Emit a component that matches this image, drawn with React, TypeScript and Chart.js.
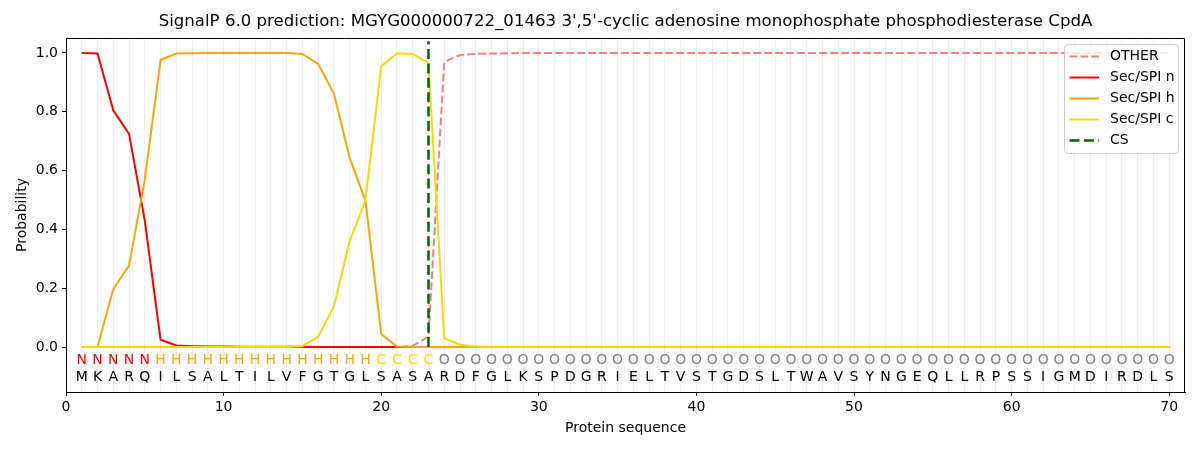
import { useEffect, useRef } from "react";
import { Chart, registerables, type ChartConfiguration, type Plugin } from "chart.js";

Chart.register(...registerables);

const TITLE =
  "SignalP 6.0 prediction: MGYG000000722_01463 3',5'-cyclic adenosine monophosphate phosphodiesterase CpdA";

const SEQUENCE = "MKARQILSALTILVFGTGLSASARDFGLKSPDGRIELTVSTGDSLTWAVSYNGEQLLRPSSIGMDIRDLS".split("");
const REGIONS = (
  "NNNNN" + "HHHHHHHHHHHHHH" + "CCCC" + "OOOOOOOOOOOOOOOOOOOOOOOOOOOOOOOOOOOOOOOOOOOOOOO"
).split("");

const OTHER = [
  0, 0, 0, 0, 0, 0, 0, 0, 0, 0,
  0, 0, 0, 0, 0, 0, 0, 0, 0, 0,
  0, 0.004, 0.035, 0.97, 0.993, 0.997, 0.998, 0.999, 1, 1,
  1, 1, 1, 1, 1, 1, 1, 1, 1, 1,
  1, 1, 1, 1, 1, 1, 1, 1, 1, 1,
  1, 1, 1, 1, 1, 1, 1, 1, 1, 1,
  1, 1, 1, 1, 1, 1, 1, 1, 1, 1,
];
const SEC_N = [
  1.0, 0.998, 0.805, 0.725, 0.43, 0.025, 0.005, 0.003, 0.002, 0.002,
  0.001, 0.001, 0.001, 0.001, 0.001, 0, 0, 0, 0, 0,
  0, 0, 0, 0, 0, 0, 0, 0, 0, 0,
  0, 0, 0, 0, 0, 0, 0, 0, 0, 0,
  0, 0, 0, 0, 0, 0, 0, 0, 0, 0,
  0, 0, 0, 0, 0, 0, 0, 0, 0, 0,
  0, 0, 0, 0, 0, 0, 0, 0, 0, 0,
];
const SEC_H = [
  0, 0, 0.197, 0.277, 0.57, 0.976, 0.998, 0.999, 1, 1,
  1, 1, 1, 1, 0.997, 0.963, 0.862, 0.643, 0.498, 0.044,
  0.002, 0, 0, 0, 0, 0, 0, 0, 0, 0,
  0, 0, 0, 0, 0, 0, 0, 0, 0, 0,
  0, 0, 0, 0, 0, 0, 0, 0, 0, 0,
  0, 0, 0, 0, 0, 0, 0, 0, 0, 0,
  0, 0, 0, 0, 0, 0, 0, 0, 0, 0,
];
const SEC_C = [
  0, 0, 0, 0, 0, 0, 0, 0, 0, 0,
  0, 0, 0, 0, 0.003, 0.035, 0.139, 0.36, 0.498, 0.955,
  0.999, 0.997, 0.966, 0.03, 0.008, 0.002, 0, 0, 0, 0,
  0, 0, 0, 0, 0, 0, 0, 0, 0, 0,
  0, 0, 0, 0, 0, 0, 0, 0, 0, 0,
  0, 0, 0, 0, 0, 0, 0, 0, 0, 0,
  0, 0, 0, 0, 0, 0, 0, 0, 0, 0,
];

const CS_POS = 23;
const CS_TOP = 1.04;

const X_TICKS = [0, 10, 20, 30, 40, 50, 60, 70];
const Y_TICKS = [0, 0.2, 0.4, 0.6, 0.8, 1.0];

const FONT = '"DejaVu Sans", sans-serif';
const REGION_COLORS: Record<string, string> = {
  N: "#ff0000",
  H: "#ffa500",
  C: "#ffd700",
  O: "#808080",
};

const toPoints = (vals: number[]) => vals.map((y, i) => ({ x: i + 1, y }));

// title, top/right spines, residue letters and the boxed legend
const decorations: Plugin<"line"> = {
  id: "decorations",
  afterDatasetsDraw(chart) {
    const { ctx, scales } = chart;
    const x = scales.x;
    const y = scales.y;
    ctx.save();
    ctx.font = `14px ${FONT}`;
    ctx.textAlign = "center";
    ctx.textBaseline = "middle";
    const yLab = y.getPixelForValue(-0.047);
    const yAa = y.getPixelForValue(-0.102);
    SEQUENCE.forEach((aa, i) => {
      const px = x.getPixelForValue(i + 1);
      ctx.fillStyle = REGION_COLORS[REGIONS[i]];
      ctx.fillText(REGIONS[i], px, yLab);
      ctx.fillStyle = "#000";
      ctx.fillText(aa, px, yAa);
    });
    ctx.restore();
  },
  afterDraw(chart) {
    const { ctx, chartArea } = chart;
    ctx.save();
    ctx.strokeStyle = "#000";
    ctx.lineWidth = 1;
    ctx.beginPath();
    ctx.moveTo(chartArea.left, chartArea.top + 0.5);
    ctx.lineTo(chartArea.right - 0.5, chartArea.top + 0.5);
    ctx.lineTo(chartArea.right - 0.5, chartArea.bottom);
    ctx.stroke();

    ctx.fillStyle = "#000";
    ctx.font = `16.6px ${FONT}`;
    ctx.textAlign = "center";
    ctx.textBaseline = "middle";
    ctx.fillText(TITLE, (chartArea.left + chartArea.right) / 2, 22);

    // legend
    const bx = 1064.5, by = 44.5, bw = 114, bh = 109, r = 4;
    ctx.beginPath();
    ctx.moveTo(bx + r, by);
    ctx.arcTo(bx + bw, by, bx + bw, by + bh, r);
    ctx.arcTo(bx + bw, by + bh, bx, by + bh, r);
    ctx.arcTo(bx, by + bh, bx, by, r);
    ctx.arcTo(bx, by, bx + bw, by, r);
    ctx.closePath();
    ctx.fillStyle = "rgba(255,255,255,0.8)";
    ctx.fill();
    ctx.strokeStyle = "#cccccc";
    ctx.stroke();

    ctx.font = `14px ${FONT}`;
    ctx.textAlign = "left";
    chart.data.datasets.forEach((ds: any, i) => {
      const ly = 56.5 + i * 21;
      ctx.beginPath();
      ctx.strokeStyle = ds.borderColor;
      ctx.lineWidth = ds.borderWidth;
      ctx.setLineDash(ds.borderDash || []);
      ctx.moveTo(1069.5, ly);
      ctx.lineTo(1099, ly);
      ctx.stroke();
      ctx.setLineDash([]);
      ctx.fillStyle = "#000";
      ctx.fillText(ds.label, 1110, ly);
    });
    ctx.restore();
  },
};

export default function App() {
  const canvasRef = useRef<HTMLCanvasElement>(null);

  useEffect(() => {
    if (!canvasRef.current) return;
    const config: ChartConfiguration<"line"> = {
      type: "line",
      data: {
        datasets: [
          {
            label: "OTHER",
            data: toPoints(OTHER),
            borderColor: "#f08080",
            borderWidth: 2,
            borderDash: [7.7, 3.3],
            order: 5,
          },
          { label: "Sec/SPI n", data: toPoints(SEC_N), borderColor: "#ff0000", borderWidth: 2, order: 4 },
          { label: "Sec/SPI h", data: toPoints(SEC_H), borderColor: "#ffa500", borderWidth: 2, order: 3 },
          { label: "Sec/SPI c", data: toPoints(SEC_C), borderColor: "#ffd700", borderWidth: 2, order: 2 },
          {
            label: "CS",
            data: [
              { x: CS_POS, y: 0 },
              { x: CS_POS, y: CS_TOP },
            ],
            borderColor: "#006400",
            borderWidth: 2.5,
            borderDash: [10, 4.4],
            order: 1,
          },
        ],
      },
      options: {
        responsive: true,
        maintainAspectRatio: false,
        animation: false,
        devicePixelRatio: 1,
        layout: { padding: { top: 38, right: 15, left: 0, bottom: 0 } },
        elements: { point: { radius: 0 }, line: { tension: 0, fill: false } },
        plugins: { legend: { display: false }, tooltip: { enabled: false } },
        scales: {
          x: {
            type: "linear",
            min: 0,
            max: 71,
            afterBuildTicks: (s) => {
              s.ticks = Array.from({ length: 71 }, (_, i) => ({ value: i }));
            },
            afterFit: (s) => {
              s.height = 58;
            },
            ticks: {
              autoSkip: false,
              maxRotation: 0,
              padding: 3,
              color: "#000",
              font: { family: FONT, size: 14 },
              callback: (v) => (X_TICKS.includes(Number(v)) ? String(v) : ""),
            },
            grid: {
              color: (c) => (c.tick && c.tick.value >= 1 ? "#eeeeee" : "transparent"),
              lineWidth: 1,
              tickLength: 4,
              tickWidth: 1,
              tickColor: (c) => (c.tick && X_TICKS.includes(c.tick.value) ? "#000" : "transparent"),
            },
            border: { color: "#000", width: 1 },
            title: {
              display: true,
              text: "Protein sequence",
              color: "#000",
              font: { family: FONT, size: 14 },
              padding: { top: 0, bottom: 13.6 },
            },
          },
          y: {
            type: "linear",
            min: -0.153,
            max: 1.051,
            afterBuildTicks: (s) => {
              s.ticks = Y_TICKS.map((value) => ({ value }));
            },
            afterFit: (s) => {
              s.width = 66;
            },
            ticks: {
              padding: 4,
              color: "#000",
              font: { family: FONT, size: 14 },
              callback: (v) => Number(v).toFixed(1),
            },
            grid: { drawOnChartArea: false, tickLength: 4, tickColor: "#000" },
            border: { color: "#000", width: 1 },
            title: {
              display: true,
              text: "Probability",
              color: "#000",
              font: { family: FONT, size: 14 },
              padding: { top: 13.6, bottom: 0 },
            },
          },
        },
      },
      plugins: [decorations],
    };

    const chart = new Chart(canvasRef.current, config);
    return () => {
      chart.destroy();
    };
  }, []);

  return (
    <div style={{ position: "fixed", left: 0, top: 0, width: 1200, height: 450, background: "#fff" }}>
      <canvas ref={canvasRef} />
    </div>
  );
}
